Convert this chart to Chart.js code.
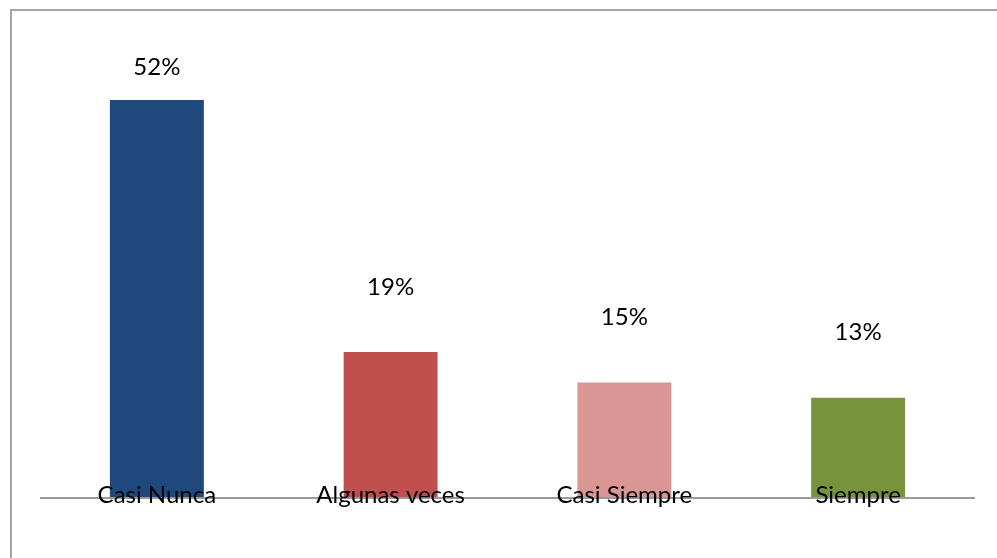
<!DOCTYPE html>
<html>
<head>
<meta charset="utf-8">
<script src="https://cdn.jsdelivr.net/npm/chart.js@4.4.1/dist/chart.umd.min.js"></script>
<style>
  html, body { margin: 0; padding: 0; background: #fff; overflow: hidden; }
  canvas { display: block; }
</style>
</head>
<body>
<canvas id="chart" width="997" height="558"></canvas>
<script>
const categories = ["Casi Nunca", "Algunas veces", "Casi Siempre", "Siempre"];
const values = [52, 19, 15, 13];
const barColors = ["#1F497D", "#C0504D", "#D99694", "#77933C"];

// how far each percentage label sits above its bar
const labelLift = [33, 65, 65, 66];

const FONT = "24px Lato, 'Open Sans', sans-serif";

const frameAndLabels = {
  id: "frameAndLabels",
  beforeDraw(chart) {
    const ctx = chart.ctx;
    ctx.save();
    ctx.strokeStyle = "#a6a6a6";
    ctx.lineWidth = 2;
    ctx.strokeRect(11, 10, 1000, 600);
    ctx.restore();
  },
  afterDatasetsDraw(chart) {
    const ctx = chart.ctx;
    const area = chart.chartArea;
    const meta = chart.getDatasetMeta(0);
    const y0 = chart.scales.y.getPixelForValue(0);

    // baseline
    ctx.save();
    ctx.strokeStyle = "#999999";
    ctx.lineWidth = 2;
    ctx.beginPath();
    ctx.moveTo(area.left, y0 + 1);
    ctx.lineTo(area.right, y0 + 1);
    ctx.stroke();

    ctx.fillStyle = "#000";
    ctx.font = FONT;
    ctx.textAlign = "center";
    ctx.textBaseline = "middle";
    meta.data.forEach((bar, i) => {
      ctx.fillText(values[i] + "%", bar.x, bar.y - labelLift[i]);
      ctx.fillText(categories[i], bar.x, y0 - 2);
    });
    ctx.restore();
  }
};

new Chart(document.getElementById("chart"), {
  type: "bar",
  data: {
    labels: categories,
    datasets: [{
      data: values,
      backgroundColor: barColors,
      borderWidth: 0,
      barPercentage: 0.402,
      categoryPercentage: 1
    }]
  },
  options: {
    responsive: false,
    animation: false,
    devicePixelRatio: 1,
    layout: { padding: { left: 40, right: 22, top: 39, bottom: 61 } },
    scales: {
      x: { display: false },
      y: { display: false, min: 0, max: 60 }
    },
    plugins: {
      legend: { display: false },
      tooltip: { enabled: false }
    }
  },
  plugins: [frameAndLabels]
});
</script>
</body>
</html>
